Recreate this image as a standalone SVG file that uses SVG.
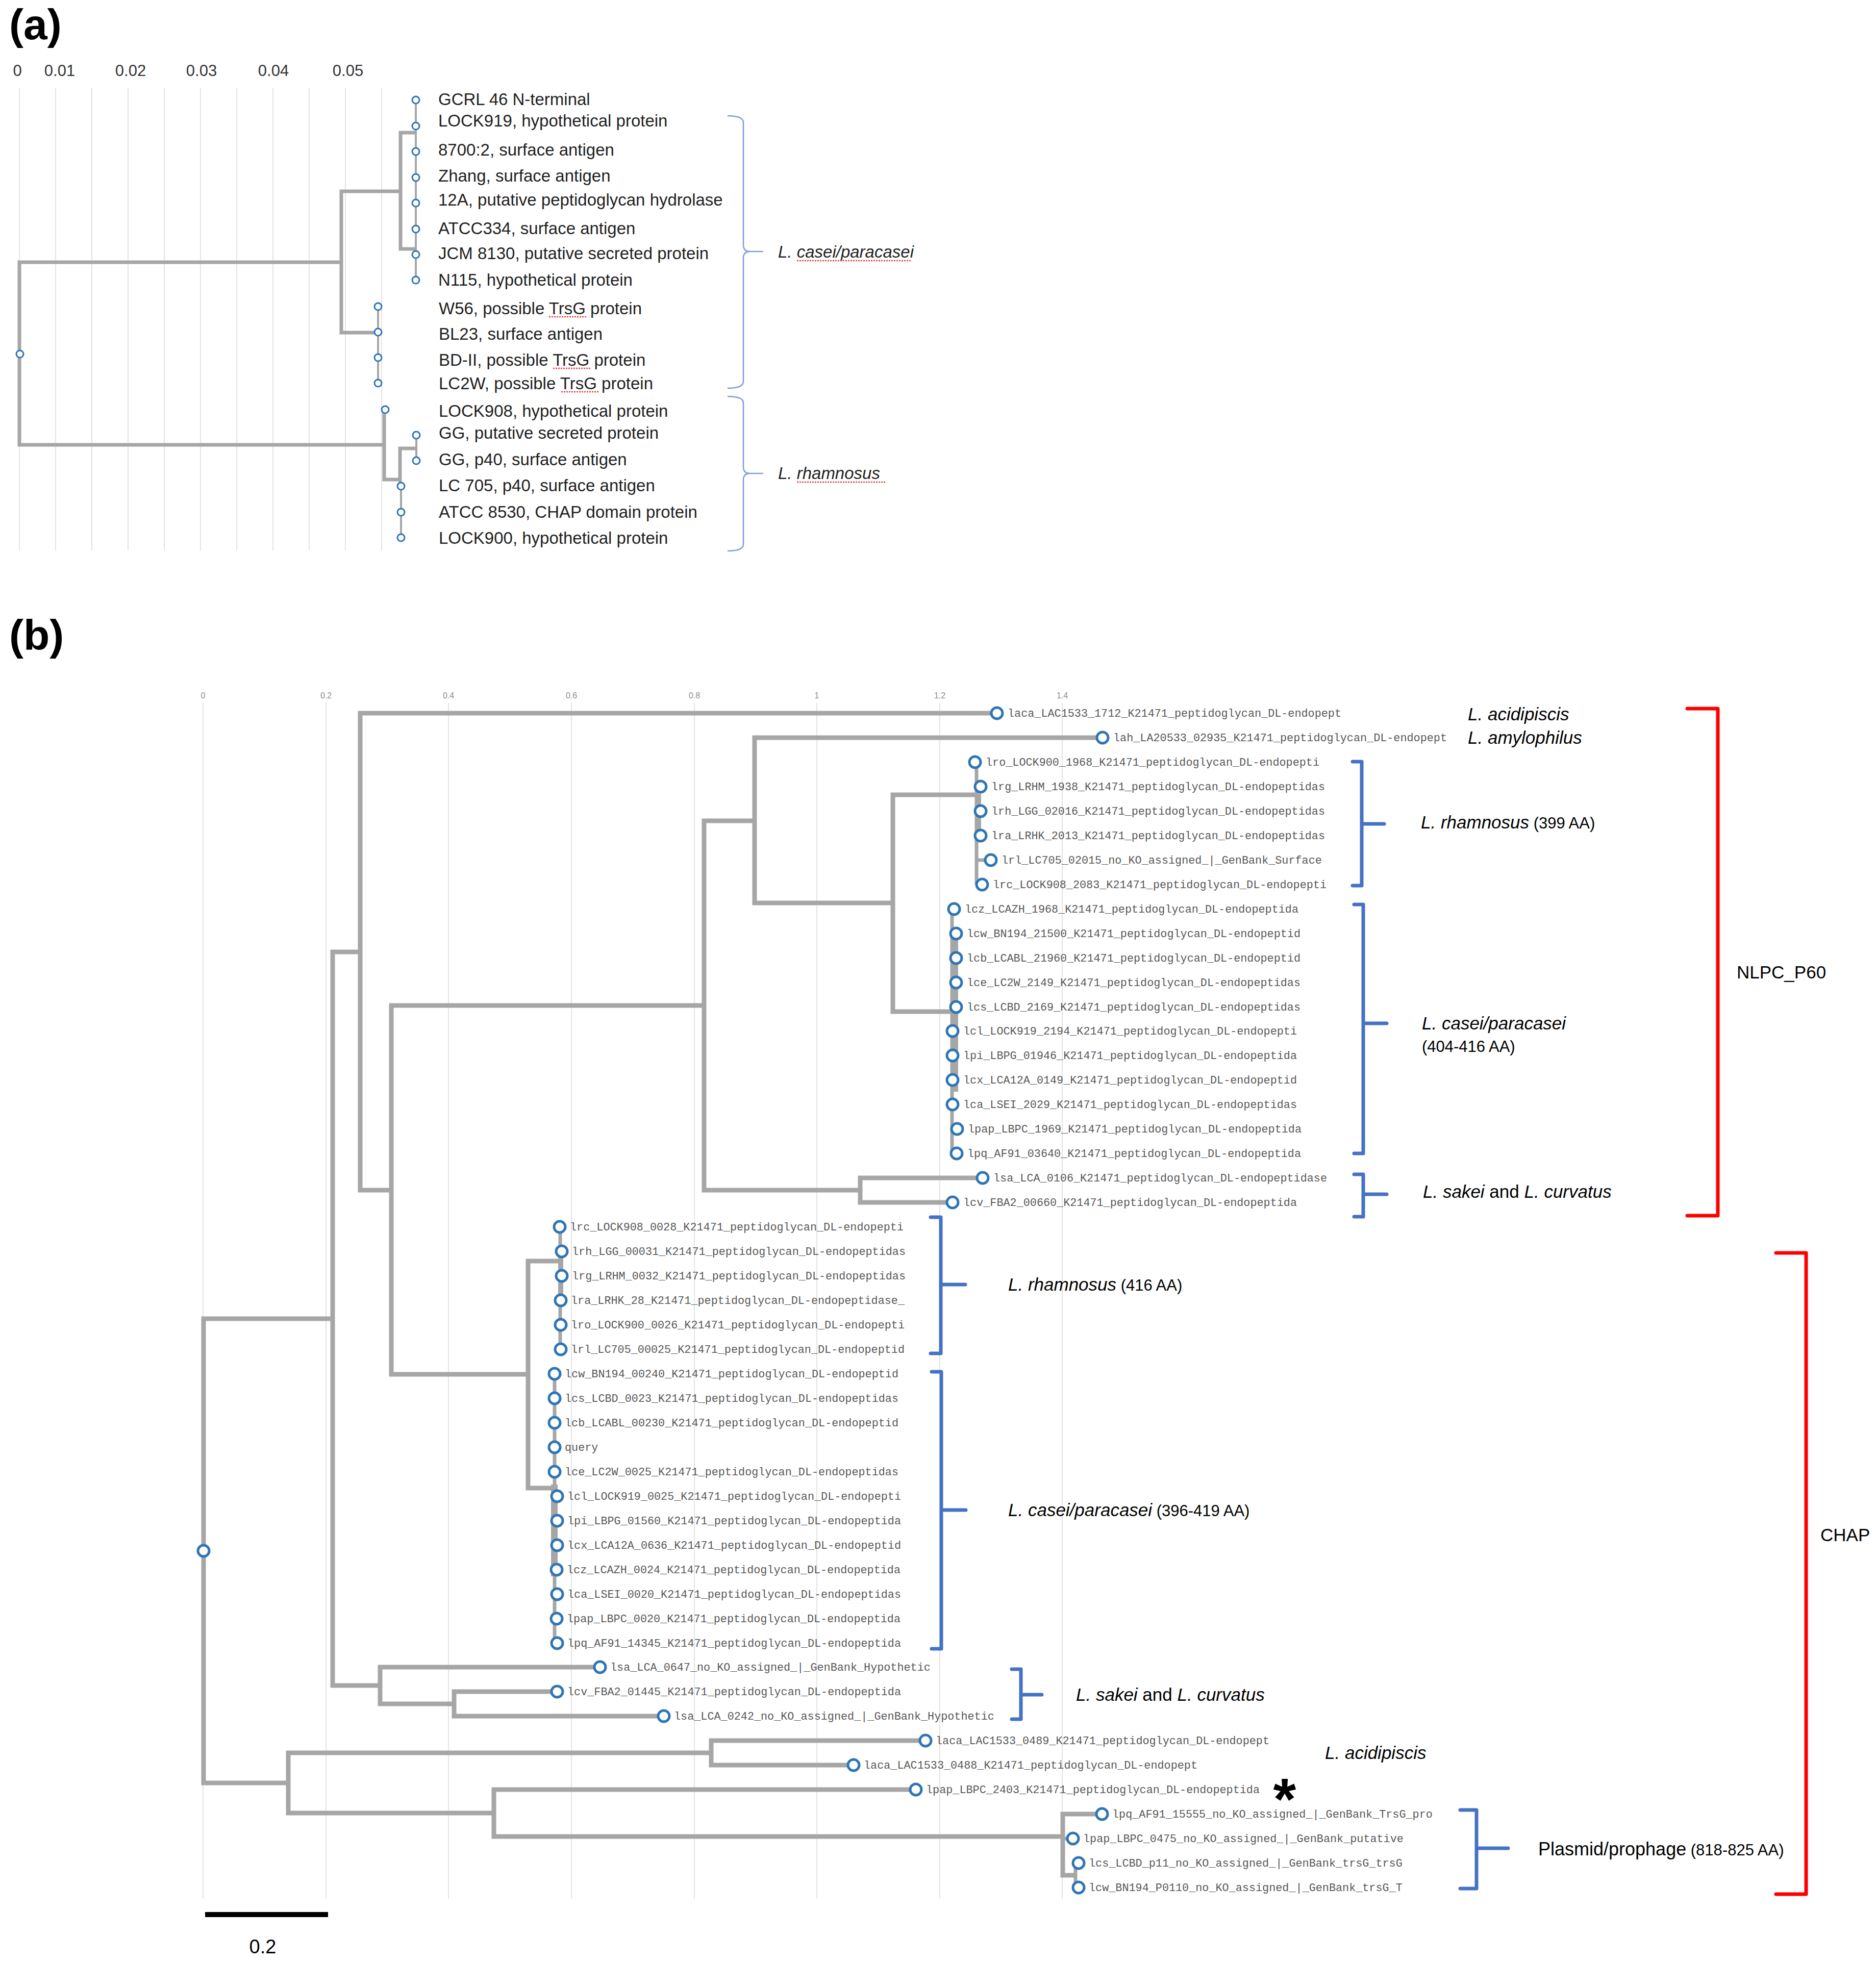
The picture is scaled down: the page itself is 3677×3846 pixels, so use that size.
<svg xmlns="http://www.w3.org/2000/svg" width="3677" height="3846" viewBox="0 0 3677 3846">
<style>
.pl{font-family:"Liberation Sans",Arial,sans-serif;font-weight:bold;font-size:84px;fill:#000}
.axa{font-family:"Liberation Sans",Arial,sans-serif;font-size:31px;fill:#333;text-anchor:middle}
.axb{font-family:"Liberation Sans",Arial,sans-serif;font-size:16px;fill:#8c8c8c;text-anchor:middle}
.la{font-family:"Liberation Sans",Arial,sans-serif;font-size:33px;fill:#1f1f1f}
.lb{font-family:"Liberation Mono","Courier New",monospace;font-size:21.8px;fill:#595959}
.ann{font-family:"Liberation Sans",Arial,sans-serif;font-size:35px;fill:#000}
.it{font-style:italic}
.sm{font-size:31px;font-style:normal}
.grid{stroke:#E3E3E3;stroke-width:2}
.br{stroke:#A6A6A6;stroke-width:9;fill:none}
.bra{stroke:#A6A6A6;stroke-width:7;fill:none}
.thin{stroke:#A6A6A6;stroke-width:4;fill:none}
.cl{stroke:#A6A6A6;stroke-width:7;fill:none}
.blk{fill:#A6A6A6}
.nb{fill:#fff;stroke:#2E75B6;stroke-width:5}
.na{fill:#fff;stroke:#2E75B6;stroke-width:3}
.bb{fill:none;stroke:#4472C4;stroke-width:7;stroke-linejoin:round;stroke-linecap:round}
.ba{fill:none;stroke:#7C9CD6;stroke-width:2.5}
.rb{fill:none;stroke:#FF0000;stroke-width:7;stroke-linejoin:round;stroke-linecap:round}
.sq{stroke:#E04040;stroke-width:2.5;stroke-dasharray:3 2;fill:none}
</style>
<rect width="3677" height="3846" fill="#fff"/>

<!-- ================= PANEL (a) ================= -->
<text class="pl" x="18" y="77">(a)</text>
<g id="a-axis">
<g class="grid">
<line x1="38" y1="172" x2="38" y2="1079"/><line x1="109" y1="172" x2="109" y2="1079"/><line x1="180" y1="172" x2="180" y2="1079"/><line x1="251" y1="172" x2="251" y2="1079"/><line x1="322" y1="172" x2="322" y2="1079"/><line x1="393" y1="172" x2="393" y2="1079"/><line x1="464" y1="172" x2="464" y2="1079"/><line x1="535" y1="172" x2="535" y2="1079"/><line x1="606" y1="172" x2="606" y2="1079"/><line x1="677" y1="172" x2="677" y2="1079"/><line x1="748" y1="172" x2="748" y2="1079"/>
</g>
<text class="axa" x="34" y="149">0</text>
<text class="axa" x="117" y="149">0.01</text>
<text class="axa" x="256" y="149">0.02</text>
<text class="axa" x="395" y="149">0.03</text>
<text class="axa" x="536" y="149">0.04</text>
<text class="axa" x="682" y="149">0.05</text>
</g>

<g id="a-connectors">
<path class="bra" d="M669,514 H38 V872 H753"/>
<path class="bra" d="M785,375 H669 V652 H741"/>
<path class="bra" d="M815,260 H785 V488 H815"/>
<path class="thin" d="M815,196 V549"/>
<path class="thin" d="M741,601 V751"/>
<path class="bra" d="M755,803 H753 V940 H784"/>
<path class="bra" d="M816,879 H784 V945"/>
<path class="thin" d="M786,945 V1054"/>
<path class="thin" d="M816,853 V903"/>
</g>

<g id="a-root"><circle class="na" cx="39" cy="694" r="7"/></g>
<g id="a-n01"><circle class="na" cx="815" cy="196" r="7"/><text class="la" x="859" y="206">GCRL 46 N-terminal</text></g>
<g id="a-n02"><circle class="na" cx="815" cy="247" r="7"/><text class="la" x="859" y="248">LOCK919, hypothetical protein</text></g>
<g id="a-n03"><circle class="na" cx="815" cy="297" r="7"/><text class="la" x="859" y="305">8700:2, surface antigen</text></g>
<g id="a-n04"><circle class="na" cx="815" cy="348" r="7"/><text class="la" x="859" y="356">Zhang, surface antigen</text></g>
<g id="a-n05"><circle class="na" cx="815" cy="398" r="7"/><text class="la" x="859" y="403">12A, putative peptidoglycan hydrolase</text></g>
<g id="a-n06"><circle class="na" cx="815" cy="449" r="7"/><text class="la" x="859" y="459">ATCC334, surface antigen</text></g>
<g id="a-n07"><circle class="na" cx="815" cy="499" r="7"/><text class="la" x="859" y="508">JCM 8130, putative secreted protein</text></g>
<g id="a-n08"><circle class="na" cx="815" cy="549" r="7"/><text class="la" x="859" y="560">N115, hypothetical protein</text></g>
<g id="a-n09"><circle class="na" cx="741" cy="601" r="7"/><text class="la" x="860" y="616">W56, possible TrsG protein</text><path class="sq" d="M1076,621 H1149"/></g>
<g id="a-n10"><circle class="na" cx="741" cy="651" r="7"/><text class="la" x="860" y="666">BL23, surface antigen</text></g>
<g id="a-n11"><circle class="na" cx="741" cy="701" r="7"/><text class="la" x="860" y="717">BD-II, possible TrsG protein</text><path class="sq" d="M1084,722 H1157"/></g>
<g id="a-n12"><circle class="na" cx="741" cy="751" r="7"/><text class="la" x="860" y="763">LC2W, possible TrsG protein</text><path class="sq" d="M1100,768 H1173"/></g>
<g id="a-n13"><circle class="na" cx="755" cy="803" r="7"/><text class="la" x="860" y="817">LOCK908, hypothetical protein</text></g>
<g id="a-n14"><circle class="na" cx="816" cy="853" r="7"/><text class="la" x="860" y="860">GG, putative secreted protein</text></g>
<g id="a-n15"><circle class="na" cx="816" cy="903" r="7"/><text class="la" x="860" y="912">GG, p40, surface antigen</text></g>
<g id="a-n16"><circle class="na" cx="786" cy="953" r="7"/><text class="la" x="860" y="963">LC 705, p40, surface antigen</text></g>
<g id="a-n17"><circle class="na" cx="786" cy="1004" r="7"/><text class="la" x="860" y="1015">ATCC 8530, CHAP domain protein</text></g>
<g id="a-n18"><circle class="na" cx="786" cy="1054" r="7"/><text class="la" x="860" y="1066">LOCK900, hypothetical protein</text></g>

<g id="a-brace-casei">
<path class="ba" d="M1426,227 Q1457,227 1457,240 V480 Q1457,493 1470,493 H1496 M1470,493 Q1457,493 1457,506 V748 Q1457,761 1426,761"/>
<text class="la it" x="1525" y="505">L. casei/paracasei</text>
<path class="sq" d="M1562,511 H1786"/>
</g>
<g id="a-brace-rhamnosus">
<path class="ba" d="M1426,777 Q1457,777 1457,790 V915 Q1457,928 1470,928 H1496 M1470,928 Q1457,928 1457,941 V1067 Q1457,1080 1426,1080"/>
<text class="la it" x="1525" y="939">L. rhamnosus</text>
<path class="sq" d="M1562,945 H1737"/>
</g>

<!-- ================= PANEL (b) ================= -->
<text class="pl" x="18" y="1274">(b)</text>
<g id="b-axis">
<g class="grid">
<line x1="398" y1="1378" x2="398" y2="3722"/><line x1="639" y1="1378" x2="639" y2="3722"/><line x1="879" y1="1378" x2="879" y2="3722"/><line x1="1120" y1="1378" x2="1120" y2="3722"/><line x1="1361" y1="1378" x2="1361" y2="3722"/><line x1="1601" y1="1378" x2="1601" y2="3722"/><line x1="1842" y1="1378" x2="1842" y2="3722"/><line x1="2082" y1="1378" x2="2082" y2="3722"/>
</g>
<text class="axb" x="398" y="1369">0</text>
<text class="axb" x="639" y="1369">0.2</text>
<text class="axb" x="879" y="1369">0.4</text>
<text class="axb" x="1120" y="1369">0.6</text>
<text class="axb" x="1361" y="1369">0.8</text>
<text class="axb" x="1601" y="1369">1</text>
<text class="axb" x="1842" y="1369">1.2</text>
<text class="axb" x="2082" y="1369">1.4</text>
</g>

<g id="b-connectors">
<path class="br" d="M652,2585 H399 V3495 H565"/>
<path class="br" d="M706,1866 H652 V3304 H745"/>
<path class="br" d="M1954,1398 H706 V2333 H767"/>
<path class="br" d="M1380,1971 H767 V2694 H1035"/>
<path class="br" d="M1479,1609 H1380 V2333 H1686"/>
<path class="br" d="M2161,1446 H1479 V1770 H1750"/>
<path class="br" d="M1914,1558 H1750 V1983 H1866"/>
<path class="br" d="M1926,2309 H1686 V2357 H1867"/>
<path class="br" d="M1098,2472 H1035 V2917 H1086"/>
<path class="br" d="M1176,3268 H745 V3340 H890"/>
<path class="br" d="M1092,3316 H890 V3364 H1301"/>
<path class="br" d="M1394,3436 H565 V3554 H968"/>
<path class="br" d="M1814,3412 H1394 V3460 H1673"/>
<path class="br" d="M1795,3508 H968 V3600 H2082"/>
<path class="br" d="M2160,3556 H2083 V3676 H2108"/>
<path class="cl" d="M2083,3604 H2103 M2108,3652 V3700 M2108,3652 H2114 M2108,3700 H2114"/>
<!-- clade bars -->
<path class="cl" d="M1914,1494 V1734 M1914,1542 H1922 M1914,1590 H1922 M1914,1638 H1922 M1914,1686 H1942 M1914,1734 H1925"/>
<rect class="blk" x="1911" y="1556" width="12" height="70"/>
<path class="cl" d="M1866,1782 V2261 M1866,1830 H1874 M1866,1878 H1874 M1866,1926 H1874 M1866,1974 H1874 M1866,2213 H1876 M1866,2261 H1875"/>
<rect class="blk" x="1863" y="1831" width="15" height="309"/>
<path class="cl" d="M1098,2405 V2645 M1098,2453 H1101 M1098,2501 H1101"/>
<rect class="blk" x="1094" y="2450" width="10" height="110"/>
<path class="cl" d="M1087,2693 V3221 M1087,2933 H1092 M1087,2981 H1092 M1087,3029 H1092 M1087,3125 H1092 M1087,3221 H1092"/>
<rect class="blk" x="1080" y="2910" width="13" height="180"/>
</g>

<g id="b-root"><circle class="nb" cx="399" cy="3040" r="11"/></g>
<g id="b-n01"><circle class="nb" cx="1954" cy="1398" r="11"/><text class="lb" x="1975" y="1405">laca_LAC1533_1712_K21471_peptidoglycan_DL-endopept</text></g>
<g id="b-n02"><circle class="nb" cx="2161" cy="1446" r="11"/><text class="lb" x="2182" y="1453">lah_LA20533_02935_K21471_peptidoglycan_DL-endopept</text></g>
<g id="b-n03"><circle class="nb" cx="1911" cy="1494" r="11"/><text class="lb" x="1932" y="1501">lro_LOCK900_1968_K21471_peptidoglycan_DL-endopepti</text></g>
<g id="b-n04"><circle class="nb" cx="1922" cy="1542" r="11"/><text class="lb" x="1943" y="1549">lrg_LRHM_1938_K21471_peptidoglycan_DL-endopeptidas</text></g>
<g id="b-n05"><circle class="nb" cx="1922" cy="1590" r="11"/><text class="lb" x="1943" y="1597">lrh_LGG_02016_K21471_peptidoglycan_DL-endopeptidas</text></g>
<g id="b-n06"><circle class="nb" cx="1922" cy="1638" r="11"/><text class="lb" x="1943" y="1645">lra_LRHK_2013_K21471_peptidoglycan_DL-endopeptidas</text></g>
<g id="b-n07"><circle class="nb" cx="1942" cy="1686" r="11"/><text class="lb" x="1963" y="1693">lrl_LC705_02015_no_KO_assigned_|_GenBank_Surface</text></g>
<g id="b-n08"><circle class="nb" cx="1925" cy="1734" r="11"/><text class="lb" x="1946" y="1741">lrc_LOCK908_2083_K21471_peptidoglycan_DL-endopepti</text></g>
<g id="b-n09"><circle class="nb" cx="1870" cy="1782" r="11"/><text class="lb" x="1891" y="1789">lcz_LCAZH_1968_K21471_peptidoglycan_DL-endopeptida</text></g>
<g id="b-n10"><circle class="nb" cx="1874" cy="1830" r="11"/><text class="lb" x="1895" y="1837">lcw_BN194_21500_K21471_peptidoglycan_DL-endopeptid</text></g>
<g id="b-n11"><circle class="nb" cx="1874" cy="1878" r="11"/><text class="lb" x="1895" y="1885">lcb_LCABL_21960_K21471_peptidoglycan_DL-endopeptid</text></g>
<g id="b-n12"><circle class="nb" cx="1874" cy="1926" r="11"/><text class="lb" x="1895" y="1933">lce_LC2W_2149_K21471_peptidoglycan_DL-endopeptidas</text></g>
<g id="b-n13"><circle class="nb" cx="1874" cy="1974" r="11"/><text class="lb" x="1895" y="1981">lcs_LCBD_2169_K21471_peptidoglycan_DL-endopeptidas</text></g>
<g id="b-n14"><circle class="nb" cx="1867" cy="2021" r="11"/><text class="lb" x="1888" y="2028">lcl_LOCK919_2194_K21471_peptidoglycan_DL-endopepti</text></g>
<g id="b-n15"><circle class="nb" cx="1867" cy="2069" r="11"/><text class="lb" x="1888" y="2076">lpi_LBPG_01946_K21471_peptidoglycan_DL-endopeptida</text></g>
<g id="b-n16"><circle class="nb" cx="1867" cy="2117" r="11"/><text class="lb" x="1888" y="2124">lcx_LCA12A_0149_K21471_peptidoglycan_DL-endopeptid</text></g>
<g id="b-n17"><circle class="nb" cx="1867" cy="2165" r="11"/><text class="lb" x="1888" y="2172">lca_LSEI_2029_K21471_peptidoglycan_DL-endopeptidas</text></g>
<g id="b-n18"><circle class="nb" cx="1876" cy="2213" r="11"/><text class="lb" x="1897" y="2220">lpap_LBPC_1969_K21471_peptidoglycan_DL-endopeptida</text></g>
<g id="b-n19"><circle class="nb" cx="1875" cy="2261" r="11"/><text class="lb" x="1896" y="2268">lpq_AF91_03640_K21471_peptidoglycan_DL-endopeptida</text></g>
<g id="b-n20"><circle class="nb" cx="1926" cy="2309" r="11"/><text class="lb" x="1947" y="2316">lsa_LCA_0106_K21471_peptidoglycan_DL-endopeptidase</text></g>
<g id="b-n21"><circle class="nb" cx="1867" cy="2357" r="11"/><text class="lb" x="1888" y="2364">lcv_FBA2_00660_K21471_peptidoglycan_DL-endopeptida</text></g>
<g id="b-n22"><circle class="nb" cx="1097" cy="2405" r="11"/><text class="lb" x="1117" y="2412">lrc_LOCK908_0028_K21471_peptidoglycan_DL-endopepti</text></g>
<g id="b-n23"><circle class="nb" cx="1101" cy="2453" r="11"/><text class="lb" x="1121" y="2460">lrh_LGG_00031_K21471_peptidoglycan_DL-endopeptidas</text></g>
<g id="b-n24"><circle class="nb" cx="1101" cy="2501" r="11"/><text class="lb" x="1121" y="2508">lrg_LRHM_0032_K21471_peptidoglycan_DL-endopeptidas</text></g>
<g id="b-n25"><circle class="nb" cx="1099" cy="2549" r="11"/><text class="lb" x="1119" y="2556">lra_LRHK_28_K21471_peptidoglycan_DL-endopeptidase_</text></g>
<g id="b-n26"><circle class="nb" cx="1099" cy="2597" r="11"/><text class="lb" x="1119" y="2604">lro_LOCK900_0026_K21471_peptidoglycan_DL-endopepti</text></g>
<g id="b-n27"><circle class="nb" cx="1099" cy="2645" r="11"/><text class="lb" x="1119" y="2652">lrl_LC705_00025_K21471_peptidoglycan_DL-endopeptid</text></g>
<g id="b-n28"><circle class="nb" cx="1087" cy="2693" r="11"/><text class="lb" x="1107" y="2700">lcw_BN194_00240_K21471_peptidoglycan_DL-endopeptid</text></g>
<g id="b-n29"><circle class="nb" cx="1087" cy="2741" r="11"/><text class="lb" x="1107" y="2748">lcs_LCBD_0023_K21471_peptidoglycan_DL-endopeptidas</text></g>
<g id="b-n30"><circle class="nb" cx="1087" cy="2789" r="11"/><text class="lb" x="1107" y="2796">lcb_LCABL_00230_K21471_peptidoglycan_DL-endopeptid</text></g>
<g id="b-n31"><circle class="nb" cx="1087" cy="2837" r="11"/><text class="lb" x="1107" y="2844">query</text></g>
<g id="b-n32"><circle class="nb" cx="1087" cy="2885" r="11"/><text class="lb" x="1107" y="2892">lce_LC2W_0025_K21471_peptidoglycan_DL-endopeptidas</text></g>
<g id="b-n33"><circle class="nb" cx="1092" cy="2933" r="11"/><text class="lb" x="1112" y="2940">lcl_LOCK919_0025_K21471_peptidoglycan_DL-endopepti</text></g>
<g id="b-n34"><circle class="nb" cx="1092" cy="2981" r="11"/><text class="lb" x="1112" y="2988">lpi_LBPG_01560_K21471_peptidoglycan_DL-endopeptida</text></g>
<g id="b-n35"><circle class="nb" cx="1092" cy="3029" r="11"/><text class="lb" x="1112" y="3036">lcx_LCA12A_0636_K21471_peptidoglycan_DL-endopeptid</text></g>
<g id="b-n36"><circle class="nb" cx="1091" cy="3077" r="11"/><text class="lb" x="1111" y="3084">lcz_LCAZH_0024_K21471_peptidoglycan_DL-endopeptida</text></g>
<g id="b-n37"><circle class="nb" cx="1092" cy="3125" r="11"/><text class="lb" x="1112" y="3132">lca_LSEI_0020_K21471_peptidoglycan_DL-endopeptidas</text></g>
<g id="b-n38"><circle class="nb" cx="1091" cy="3173" r="11"/><text class="lb" x="1111" y="3180">lpap_LBPC_0020_K21471_peptidoglycan_DL-endopeptida</text></g>
<g id="b-n39"><circle class="nb" cx="1092" cy="3221" r="11"/><text class="lb" x="1112" y="3228">lpq_AF91_14345_K21471_peptidoglycan_DL-endopeptida</text></g>
<g id="b-n40"><circle class="nb" cx="1176" cy="3268" r="11"/><text class="lb" x="1196" y="3275">lsa_LCA_0647_no_KO_assigned_|_GenBank_Hypothetic</text></g>
<g id="b-n41"><circle class="nb" cx="1092" cy="3316" r="11"/><text class="lb" x="1112" y="3323">lcv_FBA2_01445_K21471_peptidoglycan_DL-endopeptida</text></g>
<g id="b-n42"><circle class="nb" cx="1301" cy="3364" r="11"/><text class="lb" x="1321" y="3371">lsa_LCA_0242_no_KO_assigned_|_GenBank_Hypothetic</text></g>
<g id="b-n43"><circle class="nb" cx="1814" cy="3412" r="11"/><text class="lb" x="1834" y="3419">laca_LAC1533_0489_K21471_peptidoglycan_DL-endopept</text></g>
<g id="b-n44"><circle class="nb" cx="1673" cy="3460" r="11"/><text class="lb" x="1693" y="3467">laca_LAC1533_0488_K21471_peptidoglycan_DL-endopept</text></g>
<g id="b-n45"><circle class="nb" cx="1795" cy="3508" r="11"/><text class="lb" x="1815" y="3515">lpap_LBPC_2403_K21471_peptidoglycan_DL-endopeptida</text></g>
<g id="b-n46"><circle class="nb" cx="2160" cy="3556" r="11"/><text class="lb" x="2180" y="3563">lpq_AF91_15555_no_KO_assigned_|_GenBank_TrsG_pro</text></g>
<g id="b-n47"><circle class="nb" cx="2103" cy="3604" r="11"/><text class="lb" x="2123" y="3611">lpap_LBPC_0475_no_KO_assigned_|_GenBank_putative</text></g>
<g id="b-n48"><circle class="nb" cx="2114" cy="3652" r="11"/><text class="lb" x="2134" y="3659">lcs_LCBD_p11_no_KO_assigned_|_GenBank_trsG_trsG</text></g>
<g id="b-n49"><circle class="nb" cx="2114" cy="3700" r="11"/><text class="lb" x="2134" y="3707">lcw_BN194_P0110_no_KO_assigned_|_GenBank_trsG_T</text></g>

<g id="b-ann-top">
<text class="ann it" x="2877" y="1412">L. acidipiscis</text>
<text class="ann it" x="2877" y="1458">L. amylophilus</text>
</g>
<g id="b-brace-nlpc-rhamnosus">
<path class="bb" d="M2651,1493 H2669 V1736 H2651 M2669,1615 H2713"/>
<text class="ann" x="2785" y="1624"><tspan class="it">L. rhamnosus</tspan><tspan class="sm"> (399 AA)</tspan></text>
</g>
<g id="b-brace-nlpc-casei">
<path class="bb" d="M2654,1773 H2672 V2261 H2654 M2672,2006 H2718"/>
<text class="ann it" x="2787" y="2018">L. casei/paracasei</text>
<text class="ann sm" x="2787" y="2062">(404-416 AA)</text>
</g>
<g id="b-brace-nlpc-sakei">
<path class="bb" d="M2654,2302 H2672 V2385 H2654 M2672,2341 H2718"/>
<text class="ann" x="2789" y="2348"><tspan class="it">L. sakei</tspan> and <tspan class="it">L. curvatus</tspan></text>
</g>
<g id="b-group-nlpc">
<path class="rb" d="M3307,1389 H3367 V2383 H3307"/>
<text class="ann" x="3404" y="1918" font-size="34">NLPC_P60</text>
</g>
<g id="b-brace-chap-rhamnosus">
<path class="bb" d="M1824,2386 H1844 V2653 H1824 M1844,2518 H1892"/>
<text class="ann" x="1976" y="2530"><tspan class="it">L. rhamnosus</tspan><tspan class="sm"> (416 AA)</tspan></text>
</g>
<g id="b-brace-chap-casei">
<path class="bb" d="M1826,2689 H1845 V3232 H1826 M1845,2960 H1893"/>
<text class="ann" x="1976" y="2972"><tspan class="it">L. casei/paracasei</tspan><tspan class="sm"> (396-419 AA)</tspan></text>
</g>
<g id="b-brace-chap-sakei">
<path class="bb" d="M1983,3272 H2001 V3370 H1983 M2001,3322 H2042"/>
<text class="ann" x="2109" y="3334"><tspan class="it">L. sakei</tspan> and <tspan class="it">L. curvatus</tspan></text>
</g>
<g id="b-ann-acidipiscis">
<text class="ann it" x="2597" y="3448">L. acidipiscis</text>
<text x="2518" y="3566" font-family="Liberation Sans, Arial, sans-serif" font-size="115" font-weight="bold" text-anchor="middle" fill="#000">*</text>
</g>
<g id="b-brace-plasmid">
<path class="bb" d="M2862,3548 H2894 V3702 H2862 M2894,3623 H2956"/>
<text class="ann" x="3015" y="3637"><tspan font-size="36">Plasmid/prophage</tspan><tspan class="sm"> (818-825 AA)</tspan></text>
</g>
<g id="b-group-chap">
<path class="rb" d="M3481,2456 H3540 V3713 H3481"/>
<text class="ann" x="3568" y="3021" font-size="33">CHAP</text>
</g>
<g id="b-scalebar">
<line x1="402" y1="3753" x2="643" y2="3753" stroke="#000" stroke-width="10"/>
<text x="515" y="3829" font-family="Liberation Sans, Arial, sans-serif" font-size="38" text-anchor="middle" fill="#000">0.2</text>
</g>
</svg>
